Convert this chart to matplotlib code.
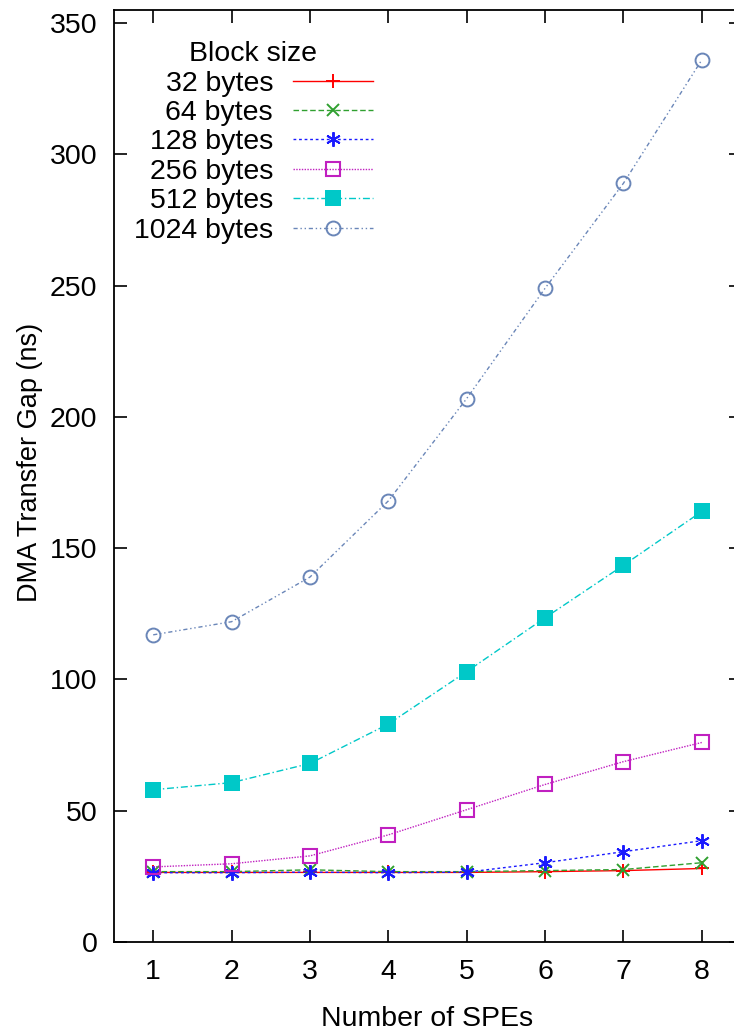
import matplotlib
matplotlib.use("Agg")
import matplotlib.pyplot as plt

# DMA transfer gap per block size vs number of SPEs
spes = [1, 2, 3, 4, 5, 6, 7, 8]
gap_32 = [26.5, 26.5, 26.5, 26.5, 26.5, 26.8, 27.2, 28.0]
gap_64 = [26.8, 26.8, 27.5, 26.8, 26.8, 27.2, 27.6, 30.2]
gap_128 = [26.4, 26.4, 26.6, 26.4, 26.6, 30.2, 34.4, 38.6]
gap_256 = [28.6, 29.8, 32.8, 40.8, 50.4, 60.0, 68.7, 76.0]
gap_512 = [58.0, 60.7, 68.0, 83.0, 103.0, 123.5, 143.5, 164.0]
gap_1024 = [117.0, 122.0, 139.0, 168.0, 207.0, 249.0, 289.0, 336.0]
labels = ["32 bytes", "64 bytes", "128 bytes", "256 bytes", "512 bytes", "1024 bytes"]

plt.rcParams["font.family"] = ["Liberation Sans", "DejaVu Sans"]
FS = 20.5

fig = plt.figure(figsize=(7.34, 10.30), dpi=100)
# right spine sits just past the image edge, as in the original crop
ax = fig.add_axes([114 / 734, 88 / 1030, 627 / 734, 932 / 1030])

styles = [
    dict(color="#ff0000", ls="-", marker="+", ms=10, mew=1.4),
    dict(color="#30a030", ls=(0, (4, 2)), marker="x", ms=8, mew=1.4),
    dict(color="#1a1aff", ls=(0, (2, 2)), marker=(6, 2, 0), ms=10.5, mew=1.4),
    dict(color="#c020c0", ls=(0, (1, 1)), marker="s", ms=10, mew=1.5, mfc="none"),
    dict(color="#00c8c8", ls=(0, (5, 2, 1, 2)), marker="s", ms=11, mew=0),
    dict(color="#6a86b8", ls=(0, (3, 2, 1, 2, 1, 2)), marker="o", ms=10, mew=1.4, mfc="none"),
]
series = [gap_32, gap_64, gap_128, gap_256, gap_512, gap_1024]

for vals, lab, st in zip(series, labels, styles):
    ax.plot(spes, vals, lw=1.0, label=lab, **st)

ax.set_xlim(0.5, 8.5)
ax.set_ylim(0, 355)
ax.set_xticks(spes)
ax.set_yticks(range(0, 351, 50))
ax.tick_params(direction="in", length=9, width=1.2, labelsize=FS, pad=12,
               top=True, right=True, colors="black")
for s in ax.spines.values():
    s.set_linewidth(1.3)

ax.set_xlabel("Number of SPEs", fontsize=FS, labelpad=15)
ax.set_ylabel("DMA Transfer Gap (ns)", fontsize=19.5)
ax.yaxis.set_label_coords(-0.113, 0.515)

leg = ax.legend(title="Block size", loc="upper left", bbox_to_anchor=(0.0, 0.988),
                frameon=False, markerfirst=False, fontsize=FS, title_fontsize=FS,
                handlelength=2.8, labelspacing=0.12, handletextpad=0.7,
                borderaxespad=0.3)

fig.savefig("out.png", dpi=100, facecolor="white")
